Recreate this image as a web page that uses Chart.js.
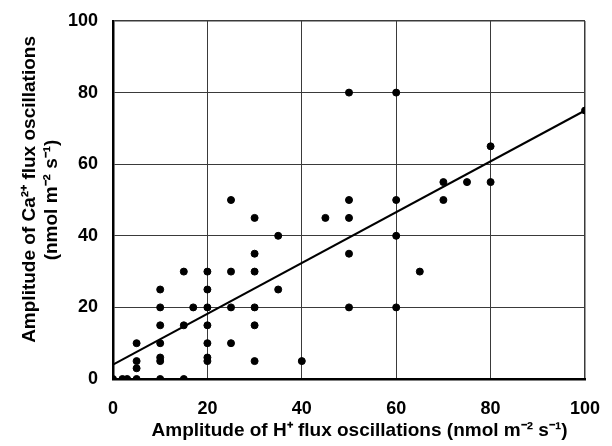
<!DOCTYPE html>
<html>
<head>
<meta charset="utf-8">
<script src="https://cdn.jsdelivr.net/npm/chart.js@4"></script>
<style>
  html, body { margin: 0; padding: 0; background: #fff; }
  #wrap { width: 612px; height: 446px; }
</style>
</head>
<body>
<div id="wrap"><canvas id="myChart" width="612" height="446"></canvas></div>
<script>
// H+ amplitude (x) and Ca2+ amplitude (y), nmol m-2 s-1
const hAmp  = [0, 2, 3, 5, 10, 15,
               5, 5, 5,
               10, 10, 10, 10, 10, 10,
               15, 15, 17,
               20, 20, 20, 20, 20, 20, 20,
               25, 25, 25, 25,
               30, 30, 30, 30, 30, 30,
               35, 35, 40, 45,
               50, 50, 50, 50, 50,
               60, 60, 60, 60, 65,
               70, 70, 75, 80, 80, 100];
const caAmp = [0, 0, 0, 0, 0, 0,
               3, 5, 10,
               5, 6, 10, 15, 20, 25,
               15, 30, 20,
               5, 6, 10, 15, 20, 25, 30,
               10, 20, 30, 50,
               5, 15, 20, 30, 35, 45,
               25, 40, 5, 45,
               20, 35, 45, 50, 80,
               20, 40, 50, 80, 30,
               50, 55, 55, 55, 65, 75];

// regression line end points
const fitX = [0, 100];
const fitY = [4, 75];

const fam = '"Liberation Sans", Arial, sans-serif';
const tickFont = { family: fam, size: 18, weight: 'bold' };

function toPoints(xs, ys) {
    var list = [];
    for (var i = 0; i < xs.length; i++) list.push({ x: xs[i], y: ys[i] });
    return list;
}

function edgeWidth(ctx) {
    return ctx.tick && ctx.tick.value === 100 ? 1.5 : 1;
}

const ctx = document.getElementById('myChart');
new Chart(ctx, {
    type: 'scatter',
    data: {
        datasets: [{
            data: toPoints(hAmp, caAmp),
            backgroundColor: '#000',
            borderColor: '#000',
            pointRadius: 3.5,
            pointHoverRadius: 3.5
        }, {
            data: toPoints(fitX, fitY),
            showLine: true,
            borderColor: '#000',
            borderWidth: 2,
            pointRadius: 0,
            fill: false
        }]
    },
    options: {
        responsive: false,
        animation: false,
        layout: { padding: { left: 0, right: 27, top: 21, bottom: 0 } },
        plugins: { legend: { display: false }, tooltip: { enabled: false } },
        scales: {
            x: {
                type: 'linear',
                min: 0, max: 100,
                afterFit: function (s) { s.height = 67; s.paddingLeft = 0; s.paddingRight = 0; },
                ticks: { stepSize: 20, color: '#000', font: tickFont, padding: 19, maxRotation: 0 },
                grid: { color: '#3a3a3a', lineWidth: edgeWidth, drawTicks: false },
                border: { color: '#000', width: 2.5 },
                title: {
                    display: true,
                    text: '    Amplitude of H\u207A flux oscillations (nmol m\u207B\u00B2 s\u207B\u00B9)',
                    color: '#000',
                    font: { family: fam, size: 19, weight: 'bold', lineHeight: 1.2 },
                    padding: { top: 0, bottom: 4 }
                }
            },
            y: {
                type: 'linear',
                min: 0, max: 100,
                afterFit: function (s) { s.width = 113; s.paddingTop = 0; s.paddingBottom = 0; },
                ticks: { stepSize: 20, color: '#000', font: tickFont, padding: 15 },
                grid: { color: '#3a3a3a', lineWidth: edgeWidth, drawTicks: false },
                border: { color: '#000', width: 2.5 },
                title: {
                    display: true,
                    text: ['    Amplitude of Ca\u00B2\u207A flux oscillations', '(nmol m\u207B\u00B2 s\u207B\u00B9)'],
                    color: '#000',
                    font: { family: fam, size: 19, weight: 'bold', lineHeight: 1.15 },
                    padding: { top: 19, bottom: 0 }
                }
            }
        }
    }
});
</script>
</body>
</html>
